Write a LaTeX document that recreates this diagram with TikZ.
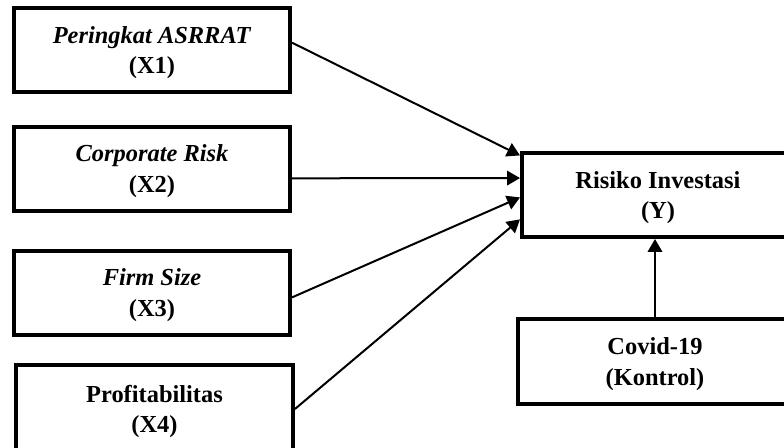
\documentclass[tikz,border=0pt]{standalone}
\usepackage{fontspec}
\setmainfont{Liberation Serif}
\usetikzlibrary{arrows.meta,positioning}

\begin{document}
\begin{tikzpicture}[
    x=0.45pt, y=-0.45pt,
    varbox/.style={rectangle, draw, line width=1.8pt, align=center,
                   minimum width=124.2pt, minimum height=37.8pt,
                   inner sep=0pt, font=\fontsize{11}{13.8}\selectfont\bfseries,
                   text depth=-4pt},
    link/.style={line width=0.9pt, -{Triangle[length=5.8pt, width=6.5pt]}}
  ]

  % ---- Frame ----
  \clip (0,0) rectangle (784,447);

  % ---- Independent variables ----
  \node[varbox] (X1) at (152,50)
    {\textit{Peringkat ASRRAT}\\(X1)};
  \node[varbox] (X2) at (152,168.5)
    {\textit{Corporate Risk}\\(X2)};
  \node[varbox] (X3) at (152,292.5)
    {\textit{Firm Size}\\(X3)};
  \node[varbox, minimum width=124.6pt, minimum height=40pt,
        text depth=0pt] (X4) at (154.5,409)
    {Profitabilitas\\(X4)};

  % ---- Dependent and control variables ----
  \node[varbox, minimum width=122.4pt] (Y) at (658,195)
    {Risiko Investasi\\(Y)};
  \node[varbox, minimum width=123.3pt, minimum height=38.2pt] (CV) at (655,361.5)
    {Covid-19\\(Kontrol)};

  % ---- Arrows ----
  \draw[link] (X1.3)  -- (Y.164);
  \draw[link] (X2.-4) -- (Y.173);
  \draw[link] (X3.-2) -- (Y.181);
  \draw[link] (X4.east) -- (Y.190);
  \draw[link] (CV.north) -- (CV.north |- Y.south);

\end{tikzpicture}
\end{document}
